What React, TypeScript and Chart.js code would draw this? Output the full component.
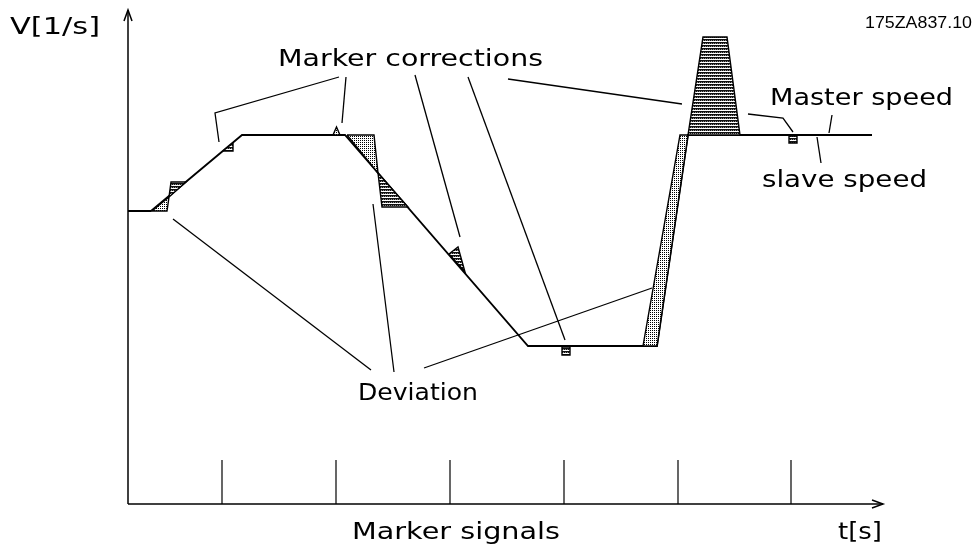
import React, { useEffect, useRef } from "react";
import { Chart, registerables } from "chart.js";

Chart.register(...registerables);

type Pt = [number, number];

// ---- axes (drawing units: t to the right, V upwards, origin at axes' crossing)
const tMax = 755;
const vMax = 494;
const markerTimes = [94, 208, 322, 436, 550, 663];
const markerHeight = 44;

// ---- master speed profile
const masterT = [0, 23, 114, 217, 400, 529, 560, 744];
const masterV = [293, 293, 369, 369, 158, 158, 369, 369];

// ---- deviation areas (dotted)
const devStartUp: Pt[] = [[24, 293], [39, 293], [41, 307]];
const devTopMark: Pt[] = [[205, 369], [208.5, 377], [212, 369]];
const devTopDown: Pt[] = [[219, 369], [246, 369], [250, 331]];
const devBottomUp: Pt[] = [[515, 158], [552, 369], [560, 369], [529, 158]];

// ---- marker corrections (hatched)
const corrStartUp: Pt[] = [[41, 307], [43, 322], [58, 322]];
const corrRampUp: Pt[] = [[95, 353], [105, 361], [105, 353]];
const corrTopDown: Pt[] = [[250, 331], [254, 297], [280, 297]];
const corrRampDown: Pt[] = [[321, 250], [330, 257], [337, 232]];
const corrBottom: Pt[] = [[434, 157], [442, 157], [442, 149], [434, 149]];
const corrPeak: Pt[] = [[560, 369], [575, 467], [599, 467], [612, 369]];
const corrEnd: Pt[] = [[661, 368], [669, 368], [669, 361], [661, 361]];

// ---- leader lines
const leadersCorrection: Pt[][] = [
  [[91, 362], [87, 391], [211, 427]],
  [[218, 427], [214, 381]],
  [[287, 429], [332, 267]],
  [[340, 427], [437, 164]],
  [[380, 425], [554, 400]],
  [[620, 390], [655, 386], [665, 372]],
];
const leadersDeviation: Pt[][] = [
  [[45, 285], [243, 134]],
  [[245, 300], [266, 132]],
  [[296, 136], [524, 216]],
];
const leaderMaster: Pt[] = [[704, 389], [701, 371]];
const leaderSlave: Pt[] = [[689, 367], [693, 341]];

// ---- texts
const labelTexts = ["V[1/s]", "175ZA837.10", "Marker corrections", "Master speed", "slave speed", "Deviation", "Marker signals", "t[s]"];
const labelT = [-118, 737, 150, 642, 634, 230, 224, 710];
const labelV = [470.5, 475.7, 438.5, 399, 317, 104.5, -34.5, -34.5];
const labelW = [90, 107, 265, 183, 165, 120, 208, 44];
const labelSize = [23, 17, 23, 23, 23, 23, 23, 23];
const labelFont = ["DejaVu Sans", "Liberation Sans", "DejaVu Sans", "DejaVu Sans", "DejaVu Sans", "DejaVu Sans", "DejaVu Sans", "DejaVu Sans"];

const W = 978;
const H = 548;

function toXY(pts: Pt[]) {
  return pts.map(([x, y]) => ({ x, y }));
}

function polyline(pts: Pt[], bw: number) {
  return {
    data: toXY(pts),
    showLine: true,
    fill: false,
    borderColor: "#000",
    borderWidth: bw,
    pointRadius: 0,
    pointHoverRadius: 0,
    tension: 0,
    borderJoinStyle: "miter" as const,
  };
}

function polygon(pts: Pt[], bg: any) {
  return {
    data: toXY([...pts, pts[0]]),
    showLine: true,
    fill: "shape",
    backgroundColor: bg,
    borderColor: "#000",
    borderWidth: 1.4,
    pointRadius: 0,
    pointHoverRadius: 0,
    tension: 0,
  };
}

function makePattern(ctx: CanvasRenderingContext2D, kind: "dot" | "hatch") {
  const tile = document.createElement("canvas");
  if (kind === "dot") {
    tile.width = 2;
    tile.height = 2;
    const c = tile.getContext("2d")!;
    c.fillStyle = "#fff";
    c.fillRect(0, 0, 2, 2);
    c.fillStyle = "#000";
    c.fillRect(0, 0, 1, 1);
  } else {
    tile.width = 4;
    tile.height = 3;
    const c = tile.getContext("2d")!;
    c.fillStyle = "#fff";
    c.fillRect(0, 0, 4, 3);
    c.fillStyle = "#111";
    c.fillRect(0, 0, 4, 1);
    c.fillRect(0, 1, 1, 1);
    c.fillRect(2, 1, 1, 1);
    c.fillStyle = "#888";
    c.fillRect(1, 1, 1, 1);
    c.fillRect(3, 1, 1, 1);
  }
  return ctx.createPattern(tile, "repeat");
}

const labelPlugin = {
  id: "diagramLabels",
  afterDatasetsDraw(chart: any) {
    const { ctx, scales } = chart;
    const sx = scales.x;
    const sy = scales.y;
    ctx.save();
    ctx.fillStyle = "#000";
    ctx.textBaseline = "alphabetic";
    ctx.textAlign = "left";
    labelTexts.forEach((text, i) => {
      ctx.font = `${labelSize[i]}px "${labelFont[i]}"`;
      const x0 = sx.getPixelForValue(labelT[i]);
      const x1 = sx.getPixelForValue(labelT[i] + labelW[i]);
      const y0 = sy.getPixelForValue(labelV[i]);
      const natural = ctx.measureText(text).width;
      const k = natural > 0 ? (x1 - x0) / natural : 1;
      ctx.save();
      ctx.translate(x0, y0);
      ctx.scale(k, 1);
      ctx.fillText(text, 0, 0);
      ctx.restore();
    });
    ctx.restore();
  },
};

export default function App() {
  const canvasRef = useRef<HTMLCanvasElement | null>(null);

  useEffect(() => {
    const canvas = canvasRef.current;
    if (!canvas) return;
    const ctx = canvas.getContext("2d")!;
    const dot = makePattern(ctx, "dot");
    const hatch = makePattern(ctx, "hatch");

    const master: Pt[] = masterT.map((t, i) => [t, masterV[i]]);
    const datasets: any[] = [];

    [devStartUp, devTopMark, devTopDown, devBottomUp].forEach((p) => datasets.push(polygon(p, dot)));
    [corrStartUp, corrRampUp, corrTopDown, corrRampDown, corrBottom, corrPeak, corrEnd].forEach((p) =>
      datasets.push(polygon(p, hatch))
    );
    datasets.push(polyline(master, 1.8));
    [...leadersCorrection, ...leadersDeviation, leaderMaster, leaderSlave].forEach((p) =>
      datasets.push(polyline(p, 1.3))
    );
    datasets.push(polyline([[0, 0], [0, vMax]], 1.5));
    datasets.push(polyline([[0, 0], [tMax, 0]], 1.5));
    datasets.push(polyline([[-4, vMax - 11], [0, vMax], [4, vMax - 11]], 1.5));
    datasets.push(polyline([[tMax - 11, 4], [tMax, 0], [tMax - 11, -4]], 1.5));
    markerTimes.forEach((t) => datasets.push(polyline([[t, 0], [t, markerHeight]], 1.2)));

    const chart = new Chart(canvas, {
      type: "scatter",
      data: { datasets },
      options: {
        responsive: false,
        animation: false,
        devicePixelRatio: 1,
        events: [],
        layout: { padding: 0 },
        plugins: { legend: { display: false }, tooltip: { enabled: false } },
        scales: {
          x: { type: "linear", min: -128, max: W - 128, display: false },
          y: { type: "linear", min: -(H - 504), max: 504, display: false },
        },
      },
      plugins: [labelPlugin],
    } as any);

    return () => chart.destroy();
  }, []);

  return (
    <div style={{ position: "absolute", left: 0, top: 0, width: W, height: H, background: "#fff" }}>
      <canvas ref={canvasRef} width={W} height={H} style={{ display: "block" }} />
    </div>
  );
}
